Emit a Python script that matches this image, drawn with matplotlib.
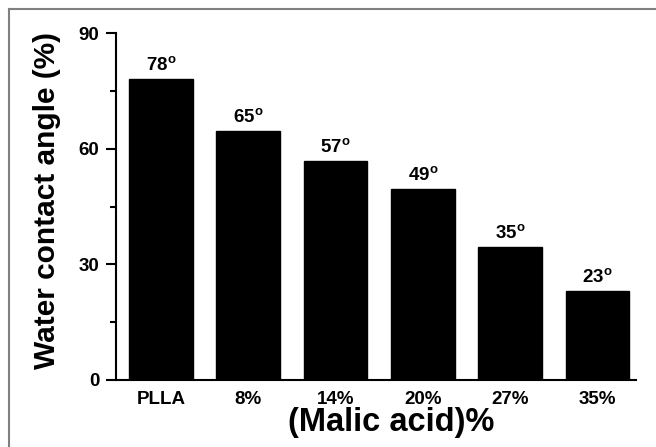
import matplotlib
matplotlib.use("Agg")
import matplotlib.pyplot as plt
from matplotlib.lines import Line2D
from matplotlib.ticker import MultipleLocator

plt.rcParams['font.family'] = ['Liberation Sans', 'DejaVu Sans']
plt.rcParams['font.weight'] = 'bold'
plt.rcParams['mathtext.fontset'] = 'custom'
plt.rcParams['mathtext.rm'] = 'Liberation Sans:bold'
plt.rcParams['mathtext.bf'] = 'Liberation Sans:bold'
plt.rcParams['mathtext.it'] = 'Liberation Sans:bold'

categories = ["PLLA", "8%", "14%", "20%", "27%", "35%"]
values = [78, 64.7, 56.8, 49.5, 34.4, 23.2]
value_labels = ["78", "65", "57", "49", "35", "23"]
yticks = [0, 30, 60, 90]

fig = plt.figure(figsize=(6.56, 4.47), dpi=100)
ax = fig.add_axes([116/656, 1-380/447, 520/656, 347/447])

x = list(range(len(categories)))
bars = ax.bar(x, values, width=0.73, color='black', edgecolor='black')

for xi, v, lab in zip(x, values, value_labels):
    ax.annotate(lab + r'$^{\mathbf{o}}$', xy=(xi, v), xytext=(0, 6.5),
                textcoords='offset points', ha='center', va='baseline',
                fontsize=13.5, fontweight='bold')

ax.set_xlim(-0.514, 5.44)
ax.set_ylim(0, 90)
ax.set_yticks(yticks)
ax.yaxis.set_minor_locator(MultipleLocator(15))
ax.set_xticks(x)
ax.set_xticklabels(categories)

for s in ['top', 'right']:
    ax.spines[s].set_visible(False)
for s in ['left', 'bottom']:
    ax.spines[s].set_linewidth(1.5)

ax.tick_params(axis='y', which='major', direction='out', length=7.5, width=1.5,
               labelsize=13.5, pad=4.5)
ax.tick_params(axis='y', which='minor', direction='out', length=4.5, width=1.5)
ax.tick_params(axis='x', which='both', length=0, labelsize=13.5, pad=8)
for t in ax.get_xticklabels() + ax.get_yticklabels():
    t.set_fontweight('bold')

ax.set_ylabel("Water contact angle (%)", fontsize=21.5, fontweight='bold')
ax.yaxis.set_label_coords(-0.106, 0.516)
ax.set_xlabel("(Malic acid)%", fontsize=23.5, fontweight='bold')
ax.xaxis.set_label_coords(0.529, -0.078)

# outer frame
fig.add_artist(Line2D([9/656, 1.0], [1-9/447, 1-9/447], transform=fig.transFigure,
                      color='#808080', linewidth=1.5))
fig.add_artist(Line2D([9/656, 9/656], [0, 1-9/447], transform=fig.transFigure,
                      color='#808080', linewidth=1.5))

fig.savefig("out.png", dpi=100)
